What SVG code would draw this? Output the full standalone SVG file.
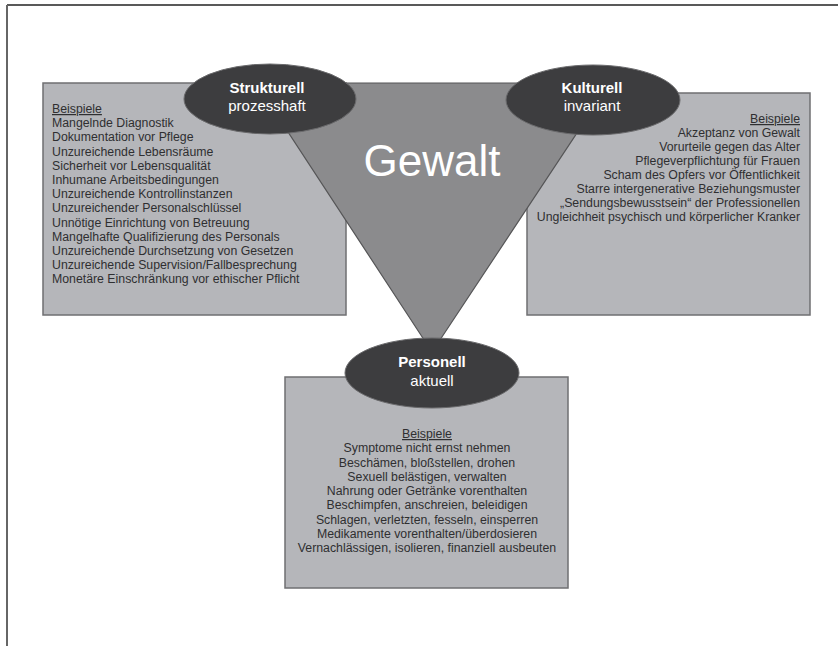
<svg xmlns="http://www.w3.org/2000/svg" width="838" height="646" viewBox="0 0 838 646">
<style>
.box{fill:#b5b6ba;stroke:#6f6f72;stroke-width:1.5}
.oval{fill:#3d3d3f;stroke:#6a6a6c;stroke-width:1}
.t{font-family:"Liberation Sans",Arial,sans-serif;font-size:12.3px;fill:#2f2f31}
.h{font-family:"Liberation Sans",Arial,sans-serif;font-size:15px;fill:#ffffff;text-anchor:middle}
.b{font-weight:bold}
.u{text-decoration:underline}
</style>
<rect width="838" height="646" fill="#ffffff"/>
<g id="frame">
<line x1="7" y1="5" x2="838" y2="5" stroke="#222" stroke-width="1.5"/>
<line x1="7" y1="5" x2="7" y2="646" stroke="#666" stroke-width="2"/>
</g>
<g id="box-strukturell">
<rect class="box" x="43" y="83" width="303" height="232"/>
<text class="t" x="52" y="113"><tspan class="u">Beispiele</tspan><tspan x="52" dy="14.2">Mangelnde Diagnostik</tspan><tspan x="52" dy="14.2">Dokumentation vor Pflege</tspan><tspan x="52" dy="14.2">Unzureichende Lebensräume</tspan><tspan x="52" dy="14.2">Sicherheit vor Lebensqualität</tspan><tspan x="52" dy="14.2">Inhumane Arbeitsbedingungen</tspan><tspan x="52" dy="14.2">Unzureichende Kontrollinstanzen</tspan><tspan x="52" dy="14.2">Unzureichender Personalschlüssel</tspan><tspan x="52" dy="14.2">Unnötige Einrichtung von Betreuung</tspan><tspan x="52" dy="14.2">Mangelhafte Qualifizierung des Personals</tspan><tspan x="52" dy="14.2">Unzureichende Durchsetzung von Gesetzen</tspan><tspan x="52" dy="14.2">Unzureichende Supervision/Fallbesprechung</tspan><tspan x="52" dy="14.2">Monetäre Einschränkung vor ethischer Pflicht</tspan></text>
</g>
<g id="box-kulturell">
<rect class="box" x="527" y="93" width="283" height="222"/>
<text class="t" x="800" y="123" text-anchor="end"><tspan class="u">Beispiele</tspan><tspan x="800" dy="14">Akzeptanz von Gewalt</tspan><tspan x="800" dy="14">Vorurteile gegen das Alter</tspan><tspan x="800" dy="14">Pflegeverpflichtung für Frauen</tspan><tspan x="800" dy="14">Scham des Opfers vor Öffentlichkeit</tspan><tspan x="800" dy="14">Starre intergenerative Beziehungsmuster</tspan><tspan x="800" dy="14">„Sendungsbewusstsein“ der Professionellen</tspan><tspan x="800" dy="14">Ungleichheit psychisch und körperlicher Kranker</tspan></text>
</g>
<g id="box-personell">
<rect class="box" x="285" y="377" width="283" height="211"/>
<text class="t" x="427" y="438" text-anchor="middle"><tspan class="u">Beispiele</tspan><tspan x="427" dy="14.25">Symptome nicht ernst nehmen</tspan><tspan x="427" dy="14.25">Beschämen, bloßstellen, drohen</tspan><tspan x="427" dy="14.25">Sexuell belästigen, verwalten</tspan><tspan x="427" dy="14.25">Nahrung oder Getränke vorenthalten</tspan><tspan x="427" dy="14.25">Beschimpfen, anschreien, beleidigen</tspan><tspan x="427" dy="14.25">Schlagen, verletzten, fesseln, einsperren</tspan><tspan x="427" dy="14.25">Medikamente vorenthalten/überdosieren</tspan><tspan x="427" dy="14.25">Vernachlässigen, isolieren, finanziell ausbeuten</tspan></text>
</g>
<g id="gewalt">
<polygon points="256,83 610,83 432,352" fill="#8b8b8d" stroke="#555557" stroke-width="1.2"/>
<text x="432" y="176" font-family="'Liberation Sans',Arial,sans-serif" font-size="44" fill="#ffffff" text-anchor="middle">Gewalt</text>
</g>
<g id="strukturell">
<ellipse class="oval" cx="270" cy="99" rx="86" ry="35"/>
<text class="h b" x="267" y="93">Strukturell</text>
<text class="h" x="267" y="111">prozesshaft</text>
</g>
<g id="kulturell">
<ellipse class="oval" cx="593" cy="100" rx="87" ry="35"/>
<text class="h b" x="592" y="93">Kulturell</text>
<text class="h" x="592" y="111">invariant</text>
</g>
<g id="personell">
<ellipse class="oval" cx="432" cy="373" rx="87" ry="35"/>
<text class="h b" x="432" y="367">Personell</text>
<text class="h" x="432" y="386">aktuell</text>
</g>
</svg>
